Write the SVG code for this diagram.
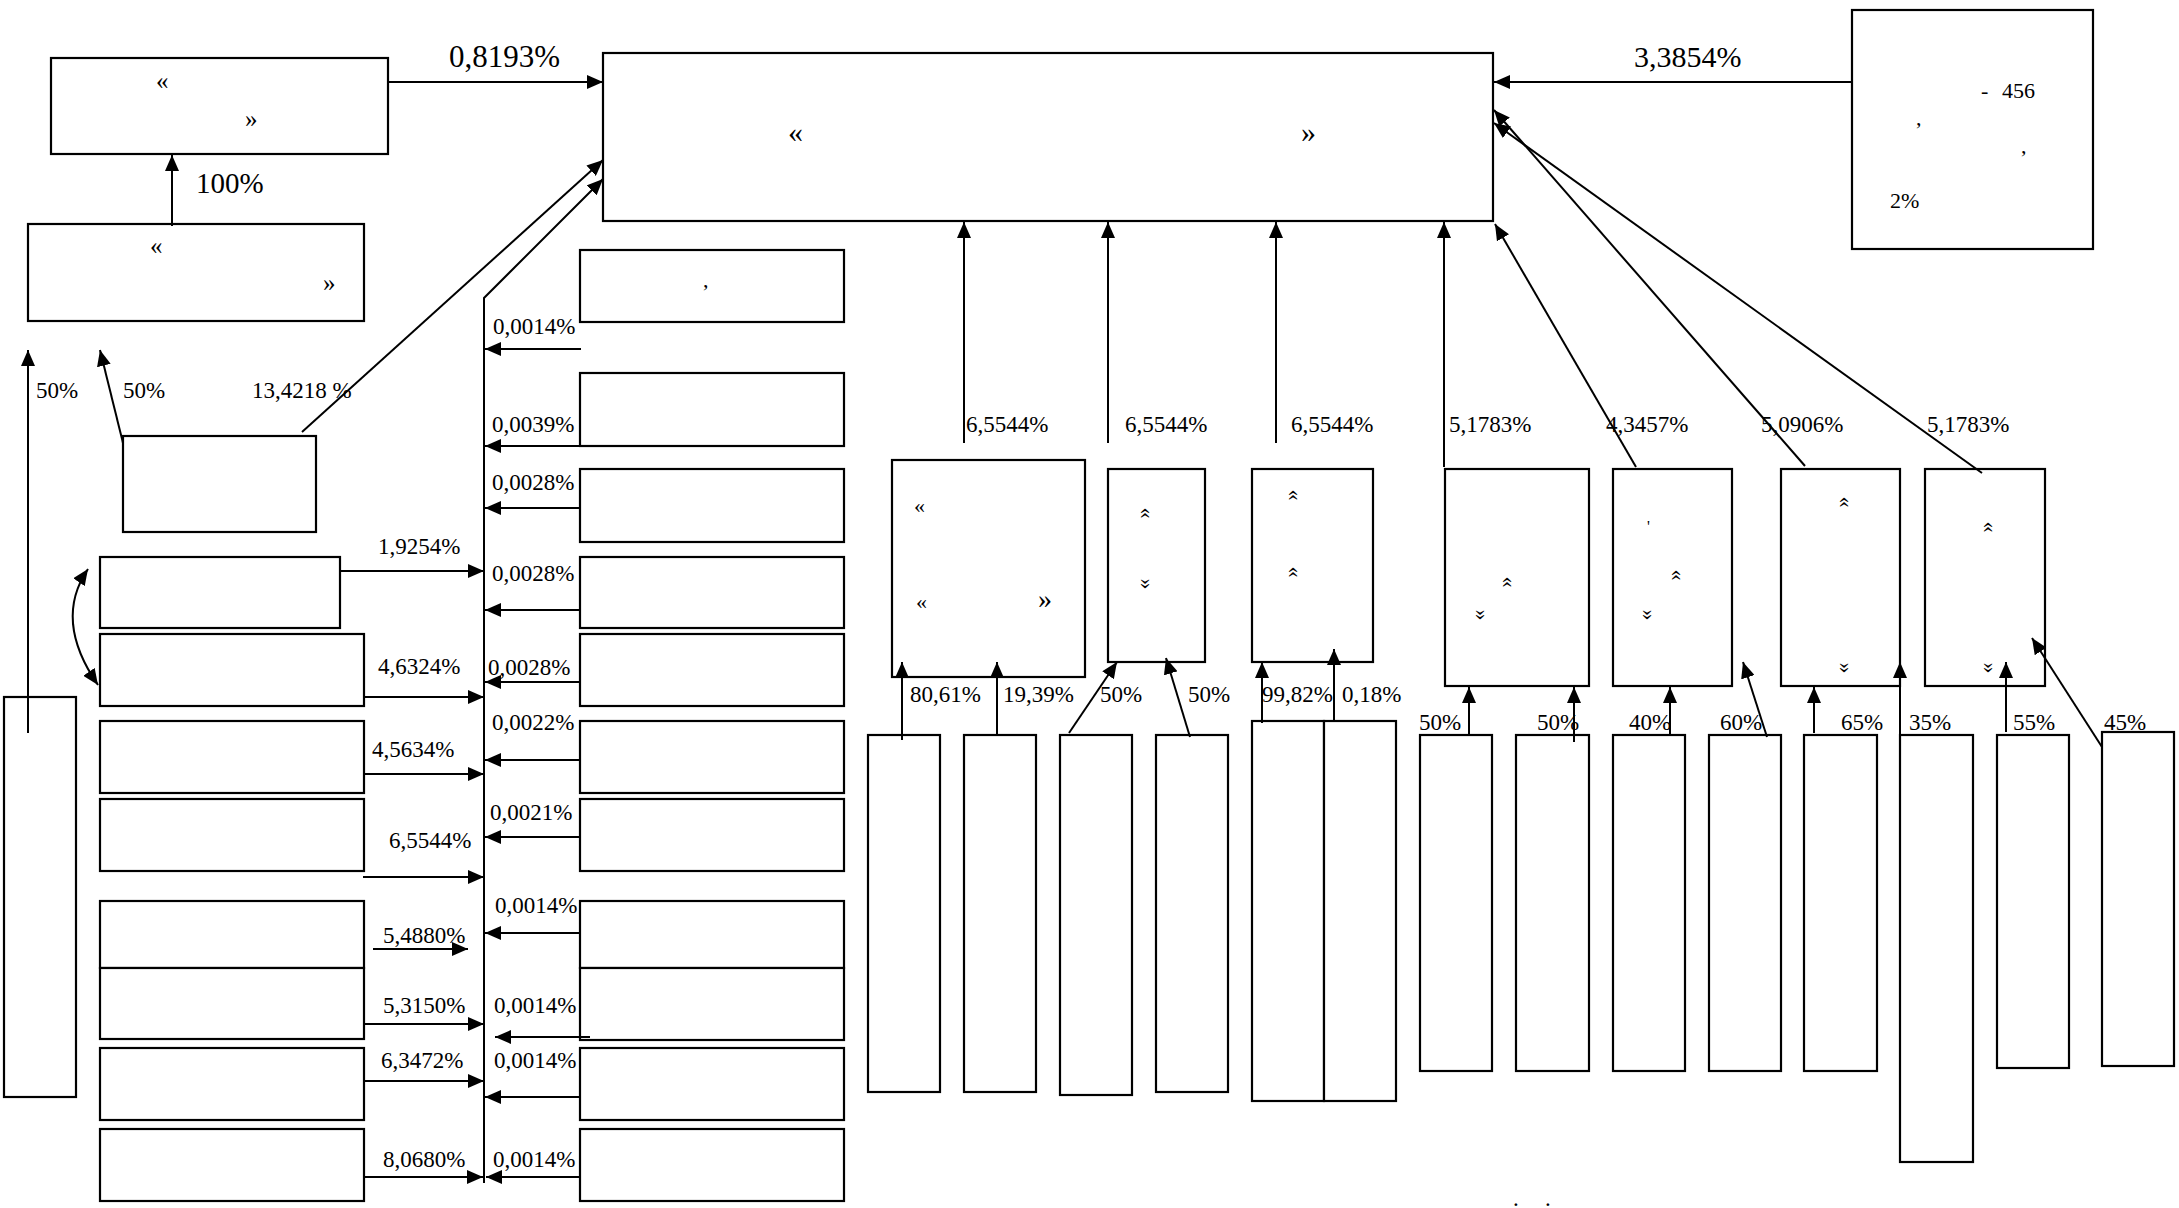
<svg xmlns="http://www.w3.org/2000/svg" width="2179" height="1208" viewBox="0 0 2179 1208">
<style>
rect{fill:#fff;stroke:#000;stroke-width:2.2}
.c line,.c path,.c polyline{stroke:#000;stroke-width:2;fill:none;marker-end:url(#ah)}
text{font-family:"Liberation Serif","Times New Roman",serif;fill:#000}
.l{font-size:23px}
.b{font-size:30px}
.s{font-size:22px}
.q{font-size:25px}
.ch{font-size:22px;text-anchor:middle;dominant-baseline:central}
</style>
<defs>
<marker id="ah" markerUnits="userSpaceOnUse" markerWidth="16" markerHeight="14" refX="16" refY="7" orient="auto-start-reverse" viewBox="0 0 16 14">
<path d="M0,0 L16,7 L0,14 z" fill="#000"/>
</marker>
</defs>
<rect x="0" y="0" width="2179" height="1208" style="stroke:none"/>

<g id="nA"><rect x="51" y="58" width="337" height="96"/><text class="q" x="156" y="89">«</text><text class="q" x="245" y="127">»</text></g>
<g id="nB"><rect x="28" y="224" width="336" height="97"/><text class="q" x="150" y="254">«</text><text class="q" x="323" y="291">»</text></g>
<g id="nMain"><rect x="603" y="53" width="890" height="168"/><text x="788" y="142" style="font-size:30px">«</text><text x="1301" y="142" style="font-size:30px">»</text></g>
<g id="nRight"><rect x="1852" y="10" width="241" height="239"/><text class="s" x="1981" y="98">-</text><text class="s" x="2002" y="98">456</text><text class="s" x="1916" y="125">,</text><text class="s" x="2021" y="153">,</text><text class="s" x="1890" y="208">2%</text></g>

<g id="n13"><rect x="123" y="436" width="193" height="96"/></g>
<g id="nL1"><rect x="100" y="557" width="240" height="71"/></g>
<g id="nL2"><rect x="100" y="634" width="264" height="72"/></g>
<g id="nL3"><rect x="100" y="721" width="264" height="72"/></g>
<g id="nL4"><rect x="100" y="799" width="264" height="72"/></g>
<g id="nL5"><rect x="100" y="901" width="264" height="67"/></g>
<g id="nL6"><rect x="100" y="968" width="264" height="71"/></g>
<g id="nL7"><rect x="100" y="1048" width="264" height="72"/></g>
<g id="nL8"><rect x="100" y="1129" width="264" height="72"/></g>
<g id="nTall"><rect x="4" y="697" width="72" height="400"/></g>

<g id="nR1"><rect x="580" y="250" width="264" height="72"/><text class="s" x="703" y="287">,</text></g>
<g id="nR2"><rect x="580" y="373" width="264" height="73"/></g>
<g id="nR3"><rect x="580" y="469" width="264" height="73"/></g>
<g id="nR4"><rect x="580" y="557" width="264" height="71"/></g>
<g id="nR5"><rect x="580" y="634" width="264" height="72"/></g>
<g id="nR6"><rect x="580" y="721" width="264" height="72"/></g>
<g id="nR7"><rect x="580" y="799" width="264" height="72"/></g>
<g id="nR8"><rect x="580" y="901" width="264" height="67"/></g>
<g id="nR9"><rect x="580" y="968" width="264" height="72"/></g>
<g id="nR10"><rect x="580" y="1048" width="264" height="72"/></g>
<g id="nR11"><rect x="580" y="1129" width="264" height="72"/></g>

<g id="nM1"><rect x="892" y="460" width="193" height="217"/><text x="914" y="513" style="font-size:22px">«</text><text x="916" y="609" style="font-size:22px">«</text><text x="1038" y="608" style="font-size:28px">»</text></g>
<g id="nM2"><rect x="1108" y="469" width="97" height="193"/><text class="ch" transform="rotate(90 1147 513)" x="1147" y="513">«</text><text class="ch" transform="rotate(90 1147 584)" x="1147" y="584">»</text></g>
<g id="nM3"><rect x="1252" y="469" width="121" height="193"/><text class="ch" transform="rotate(90 1295 495)" x="1295" y="495">«</text><text class="ch" transform="rotate(90 1295 572)" x="1295" y="572">«</text></g>

<g id="nG"><rect x="1445" y="469" width="144" height="217"/><text class="ch" transform="rotate(90 1509 582)" x="1509" y="582">«</text><text class="ch" transform="rotate(90 1482 615)" x="1482" y="615">»</text></g>
<g id="nH"><rect x="1613" y="469" width="119" height="217"/><text x="1647" y="532" style="font-size:16px">'</text><text class="ch" transform="rotate(90 1678 575)" x="1678" y="575">«</text><text class="ch" transform="rotate(90 1649 615)" x="1649" y="615">»</text></g>
<g id="nI"><rect x="1781" y="469" width="119" height="217"/><text class="ch" transform="rotate(90 1846 502)" x="1846" y="502">«</text><text class="ch" transform="rotate(90 1846 668)" x="1846" y="668">»</text></g>
<g id="nJ"><rect x="1925" y="469" width="120" height="217"/><text class="ch" transform="rotate(90 1990 527)" x="1990" y="527">«</text><text class="ch" transform="rotate(90 1990 668)" x="1990" y="668">»</text></g>

<g id="nBa"><rect x="868" y="735" width="72" height="357"/></g>
<g id="nBb"><rect x="964" y="735" width="72" height="357"/></g>
<g id="nBc"><rect x="1060" y="735" width="72" height="360"/></g>
<g id="nBd"><rect x="1156" y="735" width="72" height="357"/></g>
<g id="nBe"><rect x="1252" y="721" width="72" height="380"/></g>
<g id="nBf"><rect x="1324" y="721" width="72" height="380"/></g>
<g id="nC1"><rect x="1420" y="735" width="72" height="336"/></g>
<g id="nC2"><rect x="1516" y="735" width="73" height="336"/></g>
<g id="nC3"><rect x="1613" y="735" width="72" height="336"/></g>
<g id="nC4"><rect x="1709" y="735" width="72" height="336"/></g>
<g id="nC5"><rect x="1804" y="735" width="73" height="336"/></g>
<g id="nC6"><rect x="1900" y="735" width="73" height="427"/></g>
<g id="nC7"><rect x="1997" y="735" width="72" height="333"/></g>
<g id="nC8"><rect x="2102" y="732" width="72" height="334"/></g>

<g id="connectors" class="c">
<line x1="388" y1="82" x2="603" y2="82"/>
<line x1="172" y1="226" x2="172" y2="155"/>
<line x1="1852" y1="82" x2="1494" y2="82"/>
<line x1="302" y1="432" x2="603" y2="160"/>
<polyline points="484,1183 484,298 603,179"/>
<line x1="964" y1="443" x2="964" y2="222"/>
<line x1="1108" y1="443" x2="1108" y2="222"/>
<line x1="1276" y1="443" x2="1276" y2="222"/>
<line x1="1444" y1="467" x2="1444" y2="222"/>
<line x1="1636" y1="467" x2="1495" y2="224"/>
<line x1="1805" y1="466" x2="1494" y2="110"/>
<line x1="1982" y1="473" x2="1494" y2="123"/>
<line x1="28" y1="733" x2="28" y2="350"/>
<line x1="123" y1="443" x2="100" y2="350"/>
<path d="M88,569 Q53,620 98,685" style="marker-start:url(#ah)"/>
<line x1="340" y1="571" x2="484" y2="571"/>
<line x1="364" y1="697" x2="484" y2="697"/>
<line x1="364" y1="774" x2="484" y2="774"/>
<line x1="363" y1="877" x2="484" y2="877"/>
<line x1="373" y1="949" x2="468" y2="949"/>
<line x1="364" y1="1024" x2="484" y2="1024"/>
<line x1="364" y1="1081" x2="484" y2="1081"/>
<line x1="364" y1="1177" x2="483" y2="1177"/>
<line x1="581" y1="349" x2="485" y2="349"/>
<line x1="580" y1="446" x2="485" y2="446"/>
<line x1="580" y1="508" x2="485" y2="508"/>
<line x1="580" y1="610" x2="485" y2="610"/>
<line x1="580" y1="682" x2="485" y2="682"/>
<line x1="580" y1="760" x2="485" y2="760"/>
<line x1="580" y1="837" x2="485" y2="837"/>
<line x1="580" y1="933" x2="485" y2="933"/>
<line x1="590" y1="1037" x2="495" y2="1037"/>
<line x1="580" y1="1097" x2="485" y2="1097"/>
<line x1="580" y1="1177" x2="486" y2="1177"/>
<line x1="902" y1="740" x2="902" y2="662"/>
<line x1="997" y1="735" x2="997" y2="662"/>
<line x1="1069" y1="733" x2="1117" y2="662"/>
<line x1="1190" y1="737" x2="1166" y2="658"/>
<line x1="1262" y1="723" x2="1262" y2="662"/>
<line x1="1334" y1="721" x2="1334" y2="649"/>
<line x1="1469" y1="735" x2="1469" y2="687"/>
<line x1="1574" y1="742" x2="1574" y2="687"/>
<line x1="1670" y1="735" x2="1670" y2="687"/>
<line x1="1767" y1="737" x2="1743" y2="662"/>
<line x1="1814" y1="733" x2="1814" y2="687"/>
<line x1="1900" y1="735" x2="1900" y2="662"/>
<line x1="2006" y1="732" x2="2006" y2="662"/>
<line x1="2102" y1="747" x2="2032" y2="638"/>
</g>

<g id="labels">
<text class="b" x="449" y="67" style="font-size:31px">0,8193%</text>
<text class="b" x="196" y="193" style="font-size:29px">100%</text>
<text class="b" x="1634" y="67">3,3854%</text>
<text class="l" x="36" y="398">50%</text>
<text class="l" x="123" y="398">50%</text>
<text class="l" x="252" y="398">13,4218 %</text>
<text class="l" x="493" y="334">0,0014%</text>
<text class="l" x="492" y="432">0,0039%</text>
<text class="l" x="492" y="490">0,0028%</text>
<text class="l" x="492" y="581">0,0028%</text>
<text class="l" x="488" y="675">0,0028%</text>
<text class="l" x="492" y="730">0,0022%</text>
<text class="l" x="490" y="820">0,0021%</text>
<text class="l" x="495" y="913">0,0014%</text>
<text class="l" x="494" y="1013">0,0014%</text>
<text class="l" x="494" y="1068">0,0014%</text>
<text class="l" x="493" y="1167">0,0014%</text>
<text class="l" x="378" y="554">1,9254%</text>
<text class="l" x="378" y="674">4,6324%</text>
<text class="l" x="372" y="757">4,5634%</text>
<text class="l" x="389" y="848">6,5544%</text>
<text class="l" x="383" y="943">5,4880%</text>
<text class="l" x="383" y="1013">5,3150%</text>
<text class="l" x="381" y="1068">6,3472%</text>
<text class="l" x="383" y="1167">8,0680%</text>
<text class="l" x="966" y="432">6,5544%</text>
<text class="l" x="1125" y="432">6,5544%</text>
<text class="l" x="1291" y="432">6,5544%</text>
<text class="l" x="1449" y="432">5,1783%</text>
<text class="l" x="1606" y="432">4,3457%</text>
<text class="l" x="1761" y="432">5,0906%</text>
<text class="l" x="1927" y="432">5,1783%</text>
<text class="l" x="910" y="702">80,61%</text>
<text class="l" x="1003" y="702">19,39%</text>
<text class="l" x="1100" y="702">50%</text>
<text class="l" x="1188" y="702">50%</text>
<text class="l" x="1262" y="702">99,82%</text>
<text class="l" x="1342" y="702">0,18%</text>
<text class="l" x="1419" y="730">50%</text>
<text class="l" x="1537" y="730">50%</text>
<text class="l" x="1629" y="730">40%</text>
<text class="l" x="1720" y="730">60%</text>
<text class="l" x="1841" y="730">65%</text>
<text class="l" x="1909" y="730">35%</text>
<text class="l" x="2013" y="730">55%</text>
<text class="l" x="2104" y="730">45%</text>
<text class="l" x="1513" y="1206">.</text>
<text class="l" x="1545" y="1206">.</text>
</g>
</svg>
